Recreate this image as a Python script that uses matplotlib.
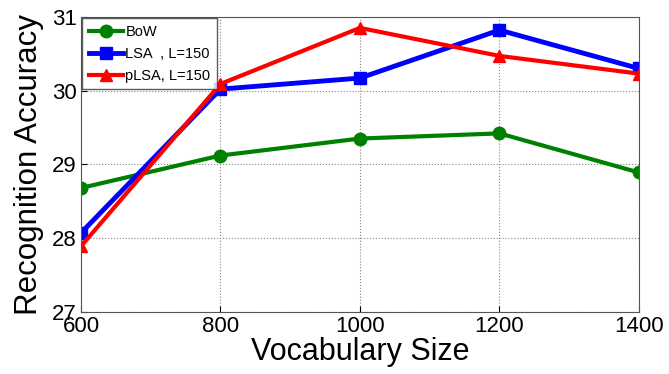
import matplotlib.pyplot as plt

plt.rcParams['font.family'] = ['Liberation Sans', 'DejaVu Sans']

vocab = [600, 800, 1000, 1200, 1400]
bow = [28.68, 29.12, 29.35, 29.42, 28.89]
lsa = [28.07, 30.02, 30.17, 30.82, 30.30]
plsa = [27.89, 30.09, 30.85, 30.47, 30.23]

fig = plt.figure(figsize=(6.69, 3.74), dpi=100)
ax = fig.add_axes([0.121, 0.166, 0.834, 0.789])

ax.plot(vocab, bow, '-o', color='#008000', lw=3, ms=9, label='BoW')
ax.plot(vocab, lsa, '-s', color='#0000ff', lw=3.5, ms=8, label='LSA  , L=150')
ax.plot(vocab, plsa, '-^', color='#ff0000', lw=3, ms=9, label='pLSA, L=150')

ax.set_xlim(600, 1400)
ax.set_ylim(27, 31)
ax.set_xticks(vocab)
ax.set_yticks([27, 28, 29, 30, 31])
ax.tick_params(labelsize=16, direction='in', length=4, pad=3)
ax.grid(True, linestyle=':', color='#888888', lw=0.8)
for s in ax.spines.values():
    s.set_color('#555555')

ax.set_xlabel('Vocabulary Size', fontsize=22, labelpad=0)
ax.set_ylabel('Recognition Accuracy', fontsize=22.5, labelpad=6)

leg = ax.legend(loc='upper left', fontsize=10.5, fancybox=False,
                edgecolor='#333333', borderaxespad=0.1, handlelength=2.3,
                handletextpad=0.2, labelspacing=0.55, borderpad=0.45)
leg.get_frame().set_linewidth(1)

fig.savefig('out.png', dpi=100)
